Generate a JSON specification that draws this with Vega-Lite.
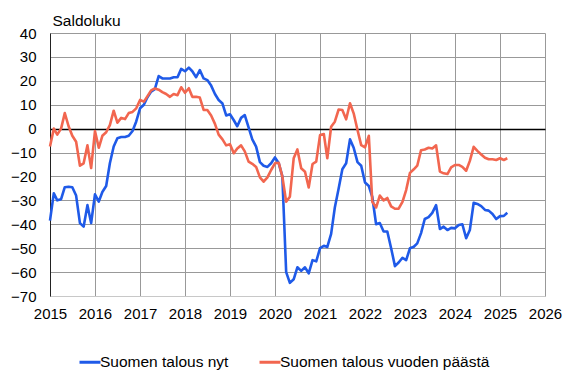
{
  "$schema": "https://vega.github.io/schema/vega-lite/v6.json",
  "width": 495,
  "height": 263,
  "autosize": {"type": "none"},
  "padding": {"left": 50, "top": 33, "right": 30, "bottom": 84},
  "config": {
    "font": "Liberation Sans",
    "view": {"stroke": null},
    "axis": {"labelColor": "#000000", "labelFontSize": 15, "ticks": false},
    "axisY": {"titleFontSize": 15.5, "titleFontWeight": "normal"}
  },
  "data": {
    "values": [
      {"m": "2015-01", "Suomen talous nyt": -38.5, "Suomen talous vuoden päästä": -7.5},
      {"m": "2015-02", "Suomen talous nyt": -27, "Suomen talous vuoden päästä": 0},
      {"m": "2015-03", "Suomen talous nyt": -30, "Suomen talous vuoden päästä": -2.5},
      {"m": "2015-04", "Suomen talous nyt": -29.5, "Suomen talous vuoden päästä": 0},
      {"m": "2015-05", "Suomen talous nyt": -24.5, "Suomen talous vuoden päästä": 6.5},
      {"m": "2015-06", "Suomen talous nyt": -24.3, "Suomen talous vuoden päästä": 1},
      {"m": "2015-07", "Suomen talous nyt": -24.5, "Suomen talous vuoden päästä": -3},
      {"m": "2015-08", "Suomen talous nyt": -28, "Suomen talous vuoden päästä": -5.5},
      {"m": "2015-09", "Suomen talous nyt": -39.5, "Suomen talous vuoden päästä": -15.5},
      {"m": "2015-10", "Suomen talous nyt": -41, "Suomen talous vuoden päästä": -14.5},
      {"m": "2015-11", "Suomen talous nyt": -32, "Suomen talous vuoden päästä": -7},
      {"m": "2015-12", "Suomen talous nyt": -39.5, "Suomen talous vuoden päästä": -16.5},
      {"m": "2016-01", "Suomen talous nyt": -27.5, "Suomen talous vuoden päästä": -1},
      {"m": "2016-02", "Suomen talous nyt": -30.5, "Suomen talous vuoden päästä": -8},
      {"m": "2016-03", "Suomen talous nyt": -26.5, "Suomen talous vuoden päästä": -3},
      {"m": "2016-04", "Suomen talous nyt": -24, "Suomen talous vuoden päästä": -1.5},
      {"m": "2016-05", "Suomen talous nyt": -14.5, "Suomen talous vuoden päästä": 1.5},
      {"m": "2016-06", "Suomen talous nyt": -7.5, "Suomen talous vuoden päästä": 7.5},
      {"m": "2016-07", "Suomen talous nyt": -4, "Suomen talous vuoden päästä": 2.5},
      {"m": "2016-08", "Suomen talous nyt": -3.5, "Suomen talous vuoden päästä": 4.5},
      {"m": "2016-09", "Suomen talous nyt": -3.5, "Suomen talous vuoden päästä": 4},
      {"m": "2016-10", "Suomen talous nyt": -3, "Suomen talous vuoden päästä": 6.5},
      {"m": "2016-11", "Suomen talous nyt": -1, "Suomen talous vuoden päästä": 7},
      {"m": "2016-12", "Suomen talous nyt": 3, "Suomen talous vuoden päästä": 8.5},
      {"m": "2017-01", "Suomen talous nyt": 8.5, "Suomen talous vuoden päästä": 12},
      {"m": "2017-02", "Suomen talous nyt": 10, "Suomen talous vuoden päästä": 11.3},
      {"m": "2017-03", "Suomen talous nyt": 13, "Suomen talous vuoden päästä": 13.5},
      {"m": "2017-04", "Suomen talous nyt": 15.5, "Suomen talous vuoden päästä": 16},
      {"m": "2017-05", "Suomen talous nyt": 16.5, "Suomen talous vuoden päästä": 16.8},
      {"m": "2017-06", "Suomen talous nyt": 22, "Suomen talous vuoden päästä": 16.3},
      {"m": "2017-07", "Suomen talous nyt": 21, "Suomen talous vuoden päästä": 15.3},
      {"m": "2017-08", "Suomen talous nyt": 21, "Suomen talous vuoden päästä": 14.5},
      {"m": "2017-09", "Suomen talous nyt": 21, "Suomen talous vuoden päästä": 13.3},
      {"m": "2017-10", "Suomen talous nyt": 21.5, "Suomen talous vuoden päästä": 14.5},
      {"m": "2017-11", "Suomen talous nyt": 21.5, "Suomen talous vuoden päästä": 14},
      {"m": "2017-12", "Suomen talous nyt": 25, "Suomen talous vuoden päästä": 17.3},
      {"m": "2018-01", "Suomen talous nyt": 24, "Suomen talous vuoden päästä": 15},
      {"m": "2018-02", "Suomen talous nyt": 25.5, "Suomen talous vuoden päästä": 16.9},
      {"m": "2018-03", "Suomen talous nyt": 24, "Suomen talous vuoden päästä": 13.3},
      {"m": "2018-04", "Suomen talous nyt": 21.5, "Suomen talous vuoden päästä": 13.3},
      {"m": "2018-05", "Suomen talous nyt": 24.5, "Suomen talous vuoden päästä": 13},
      {"m": "2018-06", "Suomen talous nyt": 21, "Suomen talous vuoden päästä": 7.8},
      {"m": "2018-07", "Suomen talous nyt": 20.3, "Suomen talous vuoden päästä": 7.8},
      {"m": "2018-08", "Suomen talous nyt": 18, "Suomen talous vuoden päästä": 5.5},
      {"m": "2018-09", "Suomen talous nyt": 14.5, "Suomen talous vuoden päästä": 2},
      {"m": "2018-10", "Suomen talous nyt": 12, "Suomen talous vuoden päästä": -2.5},
      {"m": "2018-11", "Suomen talous nyt": 10.5, "Suomen talous vuoden päästä": -4.5},
      {"m": "2018-12", "Suomen talous nyt": 5.5, "Suomen talous vuoden päästä": -7},
      {"m": "2019-01", "Suomen talous nyt": 6, "Suomen talous vuoden päästä": -6.5},
      {"m": "2019-02", "Suomen talous nyt": 3.5, "Suomen talous vuoden päästä": -10.3},
      {"m": "2019-03", "Suomen talous nyt": 1, "Suomen talous vuoden päästä": -8.3},
      {"m": "2019-04", "Suomen talous nyt": 4.5, "Suomen talous vuoden päästä": -7},
      {"m": "2019-05", "Suomen talous nyt": 5.7, "Suomen talous vuoden päästä": -9.5},
      {"m": "2019-06", "Suomen talous nyt": 0.5, "Suomen talous vuoden päästä": -13.8},
      {"m": "2019-07", "Suomen talous nyt": -4.5, "Suomen talous vuoden päästä": -14.7},
      {"m": "2019-08", "Suomen talous nyt": -7.5, "Suomen talous vuoden päästä": -16},
      {"m": "2019-09", "Suomen talous nyt": -14, "Suomen talous vuoden päästä": -20.4},
      {"m": "2019-10", "Suomen talous nyt": -15.5, "Suomen talous vuoden päästä": -22.2},
      {"m": "2019-11", "Suomen talous nyt": -16, "Suomen talous vuoden päästä": -20.4},
      {"m": "2019-12", "Suomen talous nyt": -14.5, "Suomen talous vuoden päästä": -17.3},
      {"m": "2020-01", "Suomen talous nyt": -12, "Suomen talous vuoden päästä": -14.5},
      {"m": "2020-02", "Suomen talous nyt": -14.5, "Suomen talous vuoden päästä": -14.3},
      {"m": "2020-03", "Suomen talous nyt": -20, "Suomen talous vuoden päästä": -20},
      {"m": "2020-04", "Suomen talous nyt": -60, "Suomen talous vuoden päästä": -30.6},
      {"m": "2020-05", "Suomen talous nyt": -64.5, "Suomen talous vuoden päästä": -28.5},
      {"m": "2020-06", "Suomen talous nyt": -63, "Suomen talous vuoden päästä": -12.4},
      {"m": "2020-07", "Suomen talous nyt": -58, "Suomen talous vuoden päästä": -8.7},
      {"m": "2020-08", "Suomen talous nyt": -59.5, "Suomen talous vuoden päästä": -16.6},
      {"m": "2020-09", "Suomen talous nyt": -58, "Suomen talous vuoden päästä": -18},
      {"m": "2020-10", "Suomen talous nyt": -60.5, "Suomen talous vuoden päästä": -24.6},
      {"m": "2020-11", "Suomen talous nyt": -55, "Suomen talous vuoden päästä": -14.8},
      {"m": "2020-12", "Suomen talous nyt": -55.5, "Suomen talous vuoden päästä": -13.8},
      {"m": "2021-01", "Suomen talous nyt": -50, "Suomen talous vuoden päästä": -2.7},
      {"m": "2021-02", "Suomen talous nyt": -49, "Suomen talous vuoden päästä": -2.3},
      {"m": "2021-03", "Suomen talous nyt": -49.5, "Suomen talous vuoden päästä": -12.4},
      {"m": "2021-04", "Suomen talous nyt": -44, "Suomen talous vuoden päästä": 0.8},
      {"m": "2021-05", "Suomen talous nyt": -33, "Suomen talous vuoden päästä": 2.9},
      {"m": "2021-06", "Suomen talous nyt": -25, "Suomen talous vuoden päästä": 8},
      {"m": "2021-07", "Suomen talous nyt": -17, "Suomen talous vuoden päästä": 7.8},
      {"m": "2021-08", "Suomen talous nyt": -14.5, "Suomen talous vuoden päästä": 3.9},
      {"m": "2021-09", "Suomen talous nyt": -4.5, "Suomen talous vuoden päästä": 10.6},
      {"m": "2021-10", "Suomen talous nyt": -8, "Suomen talous vuoden päästä": 6.4},
      {"m": "2021-11", "Suomen talous nyt": -14, "Suomen talous vuoden päästä": -0.6},
      {"m": "2021-12", "Suomen talous nyt": -15.5, "Suomen talous vuoden päästä": -6.9},
      {"m": "2022-01", "Suomen talous nyt": -22.5, "Suomen talous vuoden päästä": -7.8},
      {"m": "2022-02", "Suomen talous nyt": -24, "Suomen talous vuoden päästä": -3},
      {"m": "2022-03", "Suomen talous nyt": -28.5, "Suomen talous vuoden päästä": -30.6},
      {"m": "2022-04", "Suomen talous nyt": -40, "Suomen talous vuoden päästä": -33},
      {"m": "2022-05", "Suomen talous nyt": -39.5, "Suomen talous vuoden päästä": -28},
      {"m": "2022-06", "Suomen talous nyt": -43, "Suomen talous vuoden päästä": -30},
      {"m": "2022-07", "Suomen talous nyt": -43, "Suomen talous vuoden päästä": -29},
      {"m": "2022-08", "Suomen talous nyt": -50, "Suomen talous vuoden päästä": -32.5},
      {"m": "2022-09", "Suomen talous nyt": -57.5, "Suomen talous vuoden päästä": -33.5},
      {"m": "2022-10", "Suomen talous nyt": -56, "Suomen talous vuoden päästä": -33.5},
      {"m": "2022-11", "Suomen talous nyt": -54, "Suomen talous vuoden päästä": -30.6},
      {"m": "2022-12", "Suomen talous nyt": -55, "Suomen talous vuoden päästä": -25.7},
      {"m": "2023-01", "Suomen talous nyt": -50, "Suomen talous vuoden päästä": -18.5},
      {"m": "2023-02", "Suomen talous nyt": -49.4, "Suomen talous vuoden päästä": -17},
      {"m": "2023-03", "Suomen talous nyt": -48, "Suomen talous vuoden päästä": -15.5},
      {"m": "2023-04", "Suomen talous nyt": -43.7, "Suomen talous vuoden päästä": -9},
      {"m": "2023-05", "Suomen talous nyt": -37.8, "Suomen talous vuoden päästä": -8.7},
      {"m": "2023-06", "Suomen talous nyt": -37, "Suomen talous vuoden päästä": -8},
      {"m": "2023-07", "Suomen talous nyt": -35.2, "Suomen talous vuoden päästä": -8.3},
      {"m": "2023-08", "Suomen talous nyt": -32, "Suomen talous vuoden päästä": -7},
      {"m": "2023-09", "Suomen talous nyt": -42, "Suomen talous vuoden päästä": -18},
      {"m": "2023-10", "Suomen talous nyt": -41, "Suomen talous vuoden päästä": -18.7},
      {"m": "2023-11", "Suomen talous nyt": -42.4, "Suomen talous vuoden päästä": -19},
      {"m": "2023-12", "Suomen talous nyt": -41.5, "Suomen talous vuoden päästä": -16.2},
      {"m": "2024-01", "Suomen talous nyt": -41.7, "Suomen talous vuoden päästä": -15.2},
      {"m": "2024-02", "Suomen talous nyt": -40.3, "Suomen talous vuoden päästä": -15.2},
      {"m": "2024-03", "Suomen talous nyt": -40, "Suomen talous vuoden päästä": -16},
      {"m": "2024-04", "Suomen talous nyt": -45.8, "Suomen talous vuoden päästä": -17.6},
      {"m": "2024-05", "Suomen talous nyt": -42.4, "Suomen talous vuoden päästä": -13.5},
      {"m": "2024-06", "Suomen talous nyt": -31, "Suomen talous vuoden päästä": -7.6},
      {"m": "2024-07", "Suomen talous nyt": -31.5, "Suomen talous vuoden päästä": -9.3},
      {"m": "2024-08", "Suomen talous nyt": -32.4, "Suomen talous vuoden päästä": -10.8},
      {"m": "2024-09", "Suomen talous nyt": -34, "Suomen talous vuoden päästä": -12.2},
      {"m": "2024-10", "Suomen talous nyt": -34.3, "Suomen talous vuoden päästä": -12.8},
      {"m": "2024-11", "Suomen talous nyt": -35.7, "Suomen talous vuoden päästä": -12.8},
      {"m": "2024-12", "Suomen talous nyt": -37.8, "Suomen talous vuoden päästä": -13.1},
      {"m": "2025-01", "Suomen talous nyt": -36.6, "Suomen talous vuoden päästä": -12.4},
      {"m": "2025-02", "Suomen talous nyt": -36.5, "Suomen talous vuoden päästä": -13.1},
      {"m": "2025-03", "Suomen talous nyt": -35.2, "Suomen talous vuoden päästä": -12.4}
    ]
  },
  "transform": [{"fold": ["Suomen talous nyt", "Suomen talous vuoden päästä"], "as": ["sarja", "arvo"]}],
  "mark": {"type": "line", "strokeWidth": 2.6, "strokeJoin": "round"},
  "encoding": {
    "x": {
      "field": "m",
      "type": "temporal",
      "scale": {"domain": [{"year": 2015, "month": 1, "date": 1}, {"year": 2026, "month": 1, "date": 1}], "nice": false},
      "axis": {
        "title": null,
        "format": "%Y",
        "values": [{"year": 2015}, {"year": 2016}, {"year": 2017}, {"year": 2018}, {"year": 2019}, {"year": 2020}, {"year": 2021}, {"year": 2022}, {"year": 2023}, {"year": 2024}, {"year": 2025}, {"year": 2026}],
        "labelPadding": 10,
        "domainColor": "#c8c8c8",
        "gridColor": "#999999",
        "labelFlush": false,
        "labelOverlap": false,
        "grid": true
      }
    },
    "y": {
      "field": "arvo",
      "type": "quantitative",
      "scale": {"domain": [-70, 40], "nice": false, "zero": false},
      "axis": {
        "values": [-70, -60, -50, -40, -30, -20, -10, 0, 10, 20, 30, 40],
        "grid": true,
        "gridColor": {"condition": {"test": "datum.value === 0", "value": "#000000"}, "value": "#999999"},
        "gridWidth": {"condition": {"test": "datum.value === 0", "value": 1.4}, "value": 1},
        "labelOverlap": false,
        "labelPadding": 14,
        "domainColor": "#222222",
        "title": "Saldoluku",
        "titleAngle": 0,
        "titleAlign": "left",
        "titleBaseline": "alphabetic",
        "titleX": 2,
        "titleY": -8,
        "titleFontSize": 15.5,
        "titleFontWeight": "normal",
        "titleColor": "#000000"
      }
    },
    "color": {
      "field": "sarja",
      "type": "nominal",
      "scale": {"domain": ["Suomen talous nyt", "Suomen talous vuoden päästä"], "range": ["#1f5ae8", "#f2664f"]},
      "legend": {
        "title": null,
        "orient": "none",
        "direction": "horizontal",
        "legendX": 28,
        "legendY": 317,
        "symbolType": "stroke",
        "symbolSize": 441,
        "symbolStrokeWidth": 3,
        "labelFontSize": 15.5,
        "labelLimit": 400,
        "labelColor": "#000000",
        "labelOffset": -2,
        "columnPadding": 24
      }
    }
  }
}
